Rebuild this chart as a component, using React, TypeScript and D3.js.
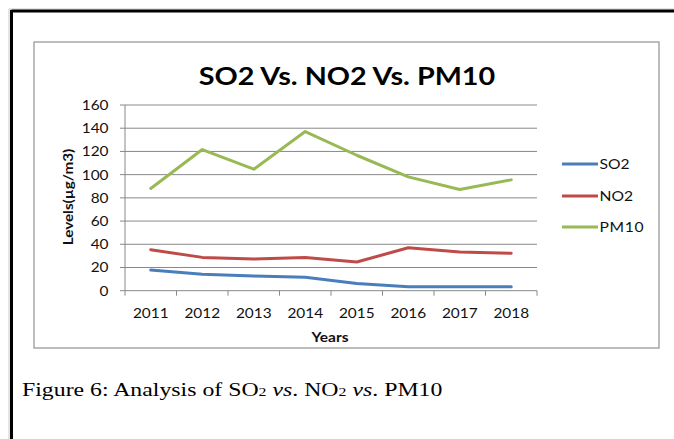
import React from "react";
import * as d3 from "d3";

const years = ["2011", "2012", "2013", "2014", "2015", "2016", "2017", "2018"];
const so2 = [17.8, 14.1, 12.6, 11.5, 6.3, 3.5, 3.5, 3.5];
const no2 = [35.3, 28.7, 27.3, 28.7, 24.7, 37, 33.3, 32.2];
const pm10 = [88.1, 121.6, 104.7, 137.1, 116.7, 98.1, 87.2, 95.5];
const yTicks = [0, 20, 40, 60, 80, 100, 120, 140, 160];
const seriesNames = ["SO2", "NO2", "PM10"];
const seriesColors = ["#4A7EBB", "#BE4B48", "#98B954"];

const W = 674;
const H = 439;
const plot = { left: 125, right: 537, top: 105, bottom: 290.7 };
const FONT = "Lato, 'Open Sans', sans-serif";

function T(props: {
  x: number;
  y: number;
  sx?: number;
  rot?: number;
  anchor?: "start" | "middle" | "end";
  size: number;
  bold?: boolean;
  fill?: string;
  family?: string;
  ls?: number;
  children: React.ReactNode;
}) {
  const { x, y, sx = 1, rot = 0, anchor = "start", size, bold, fill = "#111", family = FONT, ls = 0 } = props;
  return (
    <text
      transform={`translate(${x},${y}) rotate(${rot}) scale(${sx},1)`}
      textAnchor={anchor}
      fontFamily={family}
      fontSize={size}
      fontWeight={bold ? "bold" : "normal"}
      fill={fill}
      letterSpacing={ls}
    >
      {props.children}
    </text>
  );
}

export default function App() {
  const x = d3.scaleBand<string>().domain(years).range([plot.left, plot.right]);
  const y = d3.scaleLinear().domain([0, 160]).range([plot.bottom, plot.top]);
  const line = d3
    .line<number>()
    .x((_, i) => (x(years[i]) as number) + x.bandwidth() / 2)
    .y((d) => y(d));
  const allSeries = [so2, no2, pm10];
  const boundaries = years.map((yr) => x(yr) as number).concat([plot.right]);
  const legendY = [164, 196, 227];

  return (
    <svg
      width={W}
      height={H}
      style={{ position: "absolute", left: 0, top: 0, background: "#fff" }}
    >
      {/* outer document frame */}
      <line x1={9} y1={9} x2={W} y2={9} stroke="#c8c8c8" strokeWidth={1} />
      <line x1={9} y1={9} x2={9} y2={H} stroke="#c8c8c8" strokeWidth={1} />
      <line x1={11.5} y1={11} x2={W} y2={11} stroke="#000" strokeWidth={3} />
      <line x1={11.5} y1={10} x2={11.5} y2={H} stroke="#000" strokeWidth={3} />

      {/* chart box */}
      <rect x={34} y={42} width={625} height={306} fill="#fff" stroke="#9a9a9a" strokeWidth={1.3} />

      {/* title */}
      <T x={347} y={85} anchor="middle" size={25} bold sx={1.15} fill="#000">
        SO2 Vs. NO2 Vs. PM10
      </T>

      {/* gridlines */}
      {yTicks.map((t) => (
        <line key={"g" + t} x1={plot.left} x2={plot.right} y1={y(t)} y2={y(t)} stroke="#888" strokeWidth={1} />
      ))}
      {/* y axis */}
      <line x1={plot.left} x2={plot.left} y1={plot.top} y2={plot.bottom} stroke="#888" strokeWidth={1} />
      {yTicks.map((t) => (
        <g key={"yt" + t}>
          <line x1={plot.left - 5} x2={plot.left} y1={y(t)} y2={y(t)} stroke="#888" />
          <T x={108.5} y={y(t) + 5} anchor="end" size={14} sx={1.1}>
            {t}
          </T>
        </g>
      ))}
      {/* x axis ticks */}
      {boundaries.map((b, i) => (
        <line key={"xt" + i} x1={b} x2={b} y1={plot.bottom} y2={plot.bottom + 5} stroke="#888" />
      ))}
      {years.map((yr) => (
        <T key={"xl" + yr} x={(x(yr) as number) + x.bandwidth() / 2} y={318} anchor="middle" size={14} sx={1.1}>
          {yr}
        </T>
      ))}
      <T x={330} y={341.5} anchor="middle" size={13.5} bold sx={1.15}>
        Years
      </T>
      <T x={73} y={197} rot={-90} anchor="middle" size={14} bold sx={1.09}>
        Levels(µg/m3)
      </T>

      {/* series */}
      {allSeries.map((s, i) => (
        <path
          key={"s" + i}
          d={line(s) as string}
          fill="none"
          stroke={seriesColors[i]}
          strokeWidth={3}
          strokeLinejoin="round"
          strokeLinecap="round"
        />
      ))}

      {/* legend */}
      {seriesNames.map((n, i) => (
        <g key={"lg" + n}>
          <line x1={562} x2={598} y1={legendY[i]} y2={legendY[i]} stroke={seriesColors[i]} strokeWidth={3} />
          <T x={599.5} y={legendY[i] + 5} size={14} sx={1.12} ls={n === "PM10" ? 0.6 : 0}>
            {n}
          </T>
        </g>
      ))}

      {/* caption */}
      <T x={22} y={396} size={19.5} sx={1.22} fill="#000" family="'Liberation Serif', 'Times New Roman', serif">
        Figure 6: Analysis of SO<tspan fontSize={13}>2</tspan> <tspan fontStyle="italic">vs</tspan>. NO
        <tspan fontSize={13}>2</tspan> <tspan fontStyle="italic">vs</tspan>. PM10
      </T>
    </svg>
  );
}
